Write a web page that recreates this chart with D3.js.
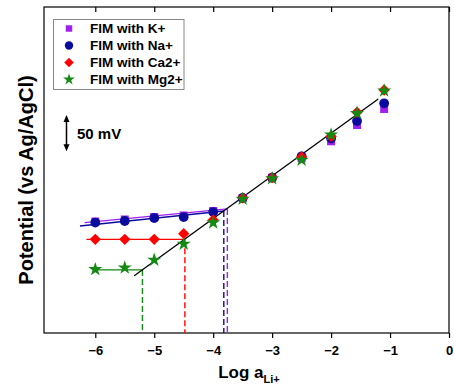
<!DOCTYPE html>
<html>
<head>
<meta charset="utf-8">
<script src="https://cdn.jsdelivr.net/npm/d3@7"></script>
<style>
  body { margin: 0; background: #fff; }
  svg { display: block; font-family: "Liberation Sans", Arial, sans-serif; }
</style>
</head>
<body>
<svg id="chart" width="454" height="392"></svg>
<script>
// ---- data ----
const logA = [-6, -5.5, -5, -4.5, -4, -3.5, -3, -2.5, -2, -1.56, -1.1];
const potK  = [-146.1, -143.3, -139.9, -137.8, -131.6, -113.6, -85.6, -58.8, -35.4, -12.9, 9.2];
const potNa = [-147.5, -145.4, -141.3, -139.9, -133.0, -113.6, -85.6, -56.1, -31.2, -7.4, 17.1];
const potCa = [-170.7, -170.7, -170.7, -162.9, -144.0, -113.6, -85.6, -57.0, -28.7, 4.7, 35.4];
const potMg = [-212.1, -209.9, -199.2, -177.1, -147.7, -115.0, -86.7, -61.2, -26.4, 3.3, 34.5];
const seriesNames = ["FIM with K+", "FIM with Na+", "FIM with Ca2+", "FIM with Mg2+"];
// fitted segments [x, E]
const fitK  = [[-6.18, -147.7], [-3.76, -128.8]];
const fitNa = [[-6.26, -152.3], [-3.82, -131.6]];
const fitCa = [[-6.15, -170.7], [-4.48, -170.7]];
const fitMg = [[-6.05, -213.0], [-5.20, -213.0]];
const fitLi = [[-5.34, -220.9], [-1.20, 23.0]];
// detection limits [x, E at intersection]
const limK  = [-3.76, -128.8];
const limNa = [-3.82, -131.6];
const limCa = [-4.48, -170.7];
const limMg = [-5.20, -213.0];
const xTicks = [-6, -5, -4, -3, -2, -1, 0];
const scaleBarMV = 50;

// ---- layout ----
const svg = d3.select("#chart");
const L = 44, R = 449, T = 7, B = 333;
const x = d3.scaleLinear().domain([-6.87, 0]).range([L, R]);
const y = d3.scaleLinear().domain([-300, 150]).range([B, T]);

const colK = "#a020f0", colNa = "#0a0a9e", colCa = "#ff0000", colMg = "#138a13";

// frame
svg.append("rect").attr("x", L).attr("y", T).attr("width", R - L).attr("height", B - T)
  .attr("fill", "none").attr("stroke", "#000").attr("stroke-width", 1.2);

// bottom axis
const xAxis = d3.axisBottom(x).tickValues(xTicks).tickSize(5).tickSizeOuter(0).tickFormat(d3.format("d"));
const gx = svg.append("g").attr("transform", `translate(0,${B})`).call(xAxis);
gx.select(".domain").remove();
gx.selectAll("line").attr("stroke", "#000").attr("stroke-width", 1.2);
gx.selectAll("text").attr("font-size", 13).attr("font-weight", "bold").attr("dy", "1.05em")
  .attr("font-family", "Liberation Sans, Arial, sans-serif").attr("fill", "#000");

// top axis (inward ticks)
const gt = svg.append("g").attr("transform", `translate(0,${T})`)
  .call(d3.axisBottom(x).tickValues(xTicks).tickSize(5).tickSizeOuter(0).tickFormat(""));
gt.select(".domain").remove();
gt.selectAll("line").attr("stroke", "#000").attr("stroke-width", 1.2);

// axis titles
const xt = svg.append("text").attr("x", 249).attr("y", 378).attr("text-anchor", "middle")
  .attr("font-size", 17).attr("font-weight", "bold");
xt.append("tspan").text("Log a");
xt.append("tspan").attr("font-size", 11).attr("dy", 5).text("Li+");

svg.append("text").attr("transform", "translate(33,180) rotate(-90)").attr("text-anchor", "middle")
  .attr("font-size", 20).attr("font-weight", "bold").text("Potential (vs Ag/AgCl)");

// detection-limit dashed lines
const lims = [[limMg, colMg], [limCa, colCa], [limNa, colNa], [limK, colK]];
lims.forEach(([p, c]) => {
  svg.append("line").attr("x1", x(p[0])).attr("x2", x(p[0]))
    .attr("y1", y(p[1])).attr("y2", B)
    .attr("stroke", c).attr("stroke-width", 1.4).attr("stroke-dasharray", "6,3");
});

// fitted lines
const line = d3.line().x(d => x(d[0])).y(d => y(d[1]));
[[fitK, colK], [fitNa, colNa], [fitCa, colCa], [fitMg, colMg], [fitLi, "#000"]].forEach(([f, c]) => {
  svg.append("path").datum(f).attr("d", line).attr("fill", "none")
    .attr("stroke", c).attr("stroke-width", 1.3);
});

// markers
const symK = d3.symbol().type(d3.symbolSquare).size(64);
const symNa = d3.symbol().type(d3.symbolCircle).size(75);
const symCa = d3.symbol().type(d3.symbolSquare).size(64);
const symMg = d3.symbol().type(d3.symbolStar).size(62);
const series = [[potK, symK, colK, 0], [potNa, symNa, colNa, 0], [potCa, symCa, colCa, 45], [potMg, symMg, colMg, 0]];
series.forEach(([vals, sym, c, rot]) => {
  svg.append("g").selectAll("path").data(vals).join("path")
    .attr("d", sym)
    .attr("transform", (d, i) => `translate(${x(logA[i])},${y(d)}) rotate(${rot})`)
    .attr("fill", c);
});

// legend
const lg = svg.append("g");
lg.append("rect").attr("x", 53.5).attr("y", 19.5).attr("width", 130.5).attr("height", 70)
  .attr("fill", "#fff").attr("stroke", "#888").attr("stroke-width", 1);
const legSyms = [
  [seriesNames[0], d3.symbol().type(d3.symbolSquare).size(42), colK, 0],
  [seriesNames[1], d3.symbol().type(d3.symbolCircle).size(55), colNa, 0],
  [seriesNames[2], d3.symbol().type(d3.symbolSquare).size(45), colCa, 45],
  [seriesNames[3], d3.symbol().type(d3.symbolStar).size(42), colMg, 0]
];
legSyms.forEach(([name, s, c, rot], i) => {
  const yy = 28.5 + i * 17;
  lg.append("path").attr("d", s).attr("transform", `translate(69,${yy}) rotate(${rot})`).attr("fill", c);
  lg.append("text").attr("x", 90).attr("y", yy).attr("dy", "0.36em")
    .attr("font-size", 13.5).attr("font-weight", "bold").text(name);
});

// 50 mV scale bar
const barTop = 115, barBot = barTop + (y(0) - y(scaleBarMV));
const bx = 66.5;
svg.append("line").attr("x1", bx).attr("x2", bx).attr("y1", barTop + 4).attr("y2", barBot - 4)
  .attr("stroke", "#000").attr("stroke-width", 1.5);
svg.append("path").attr("d", `M${bx},${barTop} L${bx - 3},${barTop + 7} L${bx + 3},${barTop + 7} Z`).attr("fill", "#000");
svg.append("path").attr("d", `M${bx},${barBot} L${bx - 3},${barBot - 7} L${bx + 3},${barBot - 7} Z`).attr("fill", "#000");
svg.append("text").attr("x", 77).attr("y", (barTop + barBot) / 2).attr("dy", "0.36em")
  .attr("font-size", 15).attr("font-weight", "bold").text(scaleBarMV + " mV");
</script>
</body>
</html>
